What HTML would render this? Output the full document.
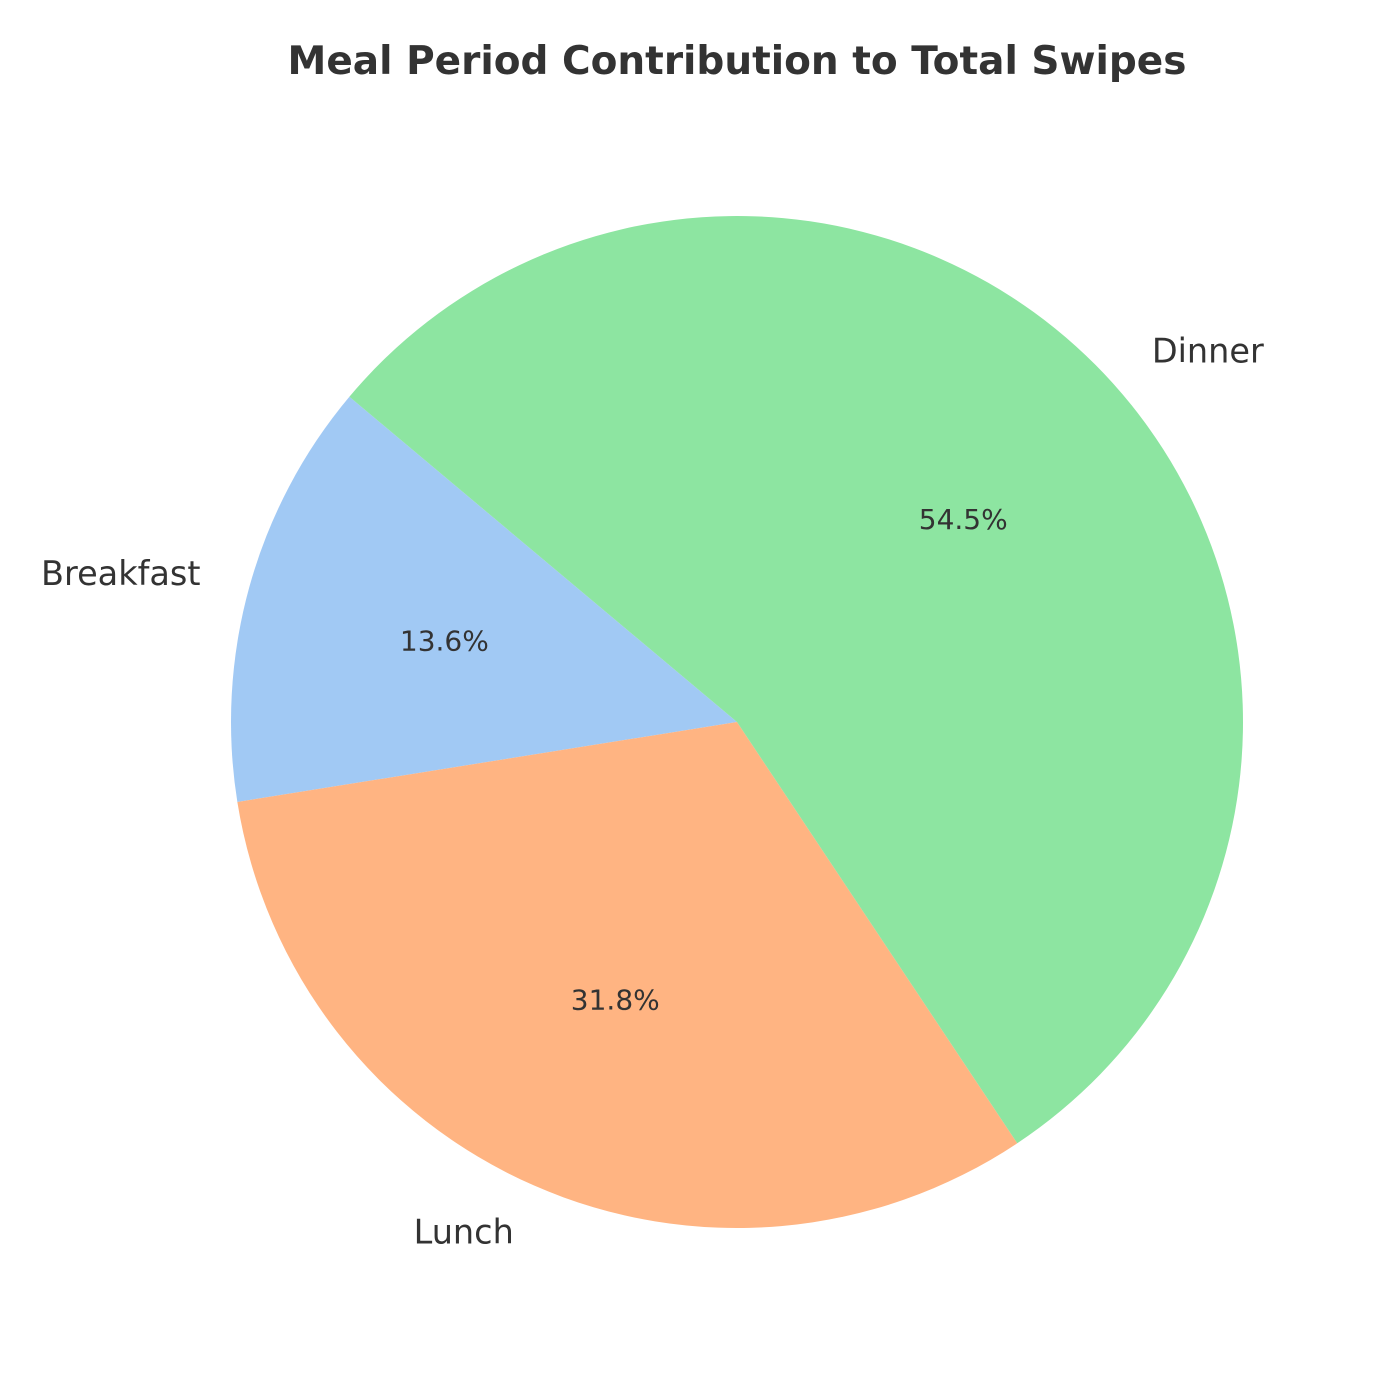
<!DOCTYPE html>
<html><head><meta charset="utf-8"><style>
html,body{margin:0;padding:0;background:#fff}
svg{display:block}
text{font-family:"DejaVu Sans","Liberation Sans",sans-serif;fill:#333}
</style></head><body>
<svg id="chart" width="1400" height="1400" viewBox="0 0 1400 1400">
<text x="737" y="74" text-anchor="middle" font-size="39" font-weight="bold">Meal Period Contribution to Total Swipes</text>
</svg>
<script>
const categories = ["Breakfast", "Lunch", "Dinner"];
const values = [3, 7, 12];
const colors = ["#a1c9f4", "#ffb482", "#8de5a1"];
const cx = 737, cy = 722, R = 506, startAngle = 140;
const svg = document.getElementById('chart');
const NS = 'http://www.w3.org/2000/svg';
const total = values.reduce((a, b) => a + b, 0);
function pt(deg, r) { const a = deg * Math.PI / 180; return [cx + r * Math.cos(a), cy - r * Math.sin(a)]; }
let ang = startAngle;
values.forEach((v, i) => {
  const sweep = v / total * 360;
  const a0 = ang, a1 = ang + sweep;
  const p0 = pt(a0, R), p1 = pt(a1, R);
  const large = sweep > 180 ? 1 : 0;
  const path = document.createElementNS(NS, 'path');
  path.setAttribute('d', `M${cx},${cy} L${p0[0]},${p0[1]} A${R},${R} 0 ${large} 0 ${p1[0]},${p1[1]} Z`);
  path.setAttribute('fill', colors[i]);
  
  
  svg.appendChild(path);
  const mid = (a0 + a1) / 2;
  const lp = pt(mid, R * 1.1);
  const lab = document.createElementNS(NS, 'text');
  lab.setAttribute('x', lp[0]); lab.setAttribute('y', lp[1]);
  lab.setAttribute('text-anchor', Math.cos(mid * Math.PI / 180) < 0 ? 'end' : 'start');
  lab.setAttribute('dominant-baseline', 'central');
  lab.setAttribute('font-size', '33.5');
  lab.textContent = categories[i];
  
  
  svg.appendChild(lab);
  const pp = pt(mid, R * 0.6);
  const pct = document.createElementNS(NS, 'text');
  pct.setAttribute('x', pp[0]); pct.setAttribute('y', pp[1]);
  pct.setAttribute('text-anchor', 'middle');
  pct.setAttribute('dominant-baseline', 'central');
  pct.setAttribute('font-size', '28');
  pct.textContent = (v / total * 100).toFixed(1) + '%';
  
  
  svg.appendChild(pct);
  ang = a1;
});
</script>
</body></html>
